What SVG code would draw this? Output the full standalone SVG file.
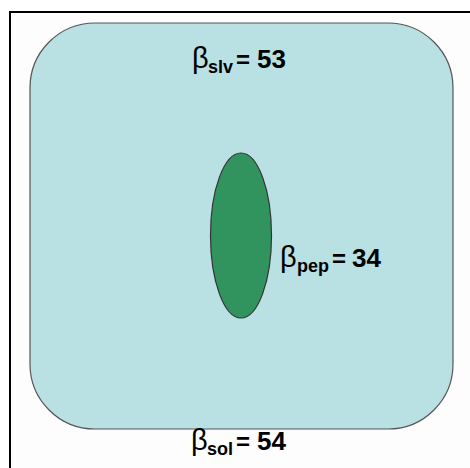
<svg xmlns="http://www.w3.org/2000/svg" width="470" height="468" viewBox="0 0 470 468">
<style>
.lbl{font-family:"Liberation Sans",Arial,sans-serif;font-weight:bold;font-size:26px;fill:#000}
.beta{font-weight:normal;font-size:29px}
.sub{font-size:18px}
.eq{font-size:24px}
</style>
<rect x="0" y="0" width="470" height="468" fill="#fff"/>
<rect x="10" y="12" width="480" height="480" fill="#fdfdfd" stroke="#000" stroke-width="2"/>
<g id="solvent">
<rect x="30" y="23" width="423" height="406" rx="65" ry="65" fill="#b9e0e3" stroke="#555" stroke-width="1.2"/>
<text class="lbl" y="68"><tspan class="beta" x="192">β</tspan><tspan class="sub" x="208" y="73">slv</tspan><tspan class="eq" x="236" y="68">=</tspan><tspan x="257">53</tspan></text>
</g>
<g id="peptide">
<ellipse cx="241" cy="235.5" rx="30.5" ry="82.5" fill="#31945f" stroke="#333" stroke-width="1.2"/>
<text class="lbl" y="267"><tspan class="beta" x="280">β</tspan><tspan class="sub" x="297" y="272">pep</tspan><tspan class="eq" x="332" y="267">=</tspan><tspan x="352">34</tspan></text>
</g>
<g id="solution">
<text class="lbl" y="450"><tspan class="beta" x="191">β</tspan><tspan class="sub" x="207" y="455">sol</tspan><tspan class="eq" x="236" y="450">=</tspan><tspan x="257">54</tspan></text>
</g>
<g id="connectors"/>
</svg>
